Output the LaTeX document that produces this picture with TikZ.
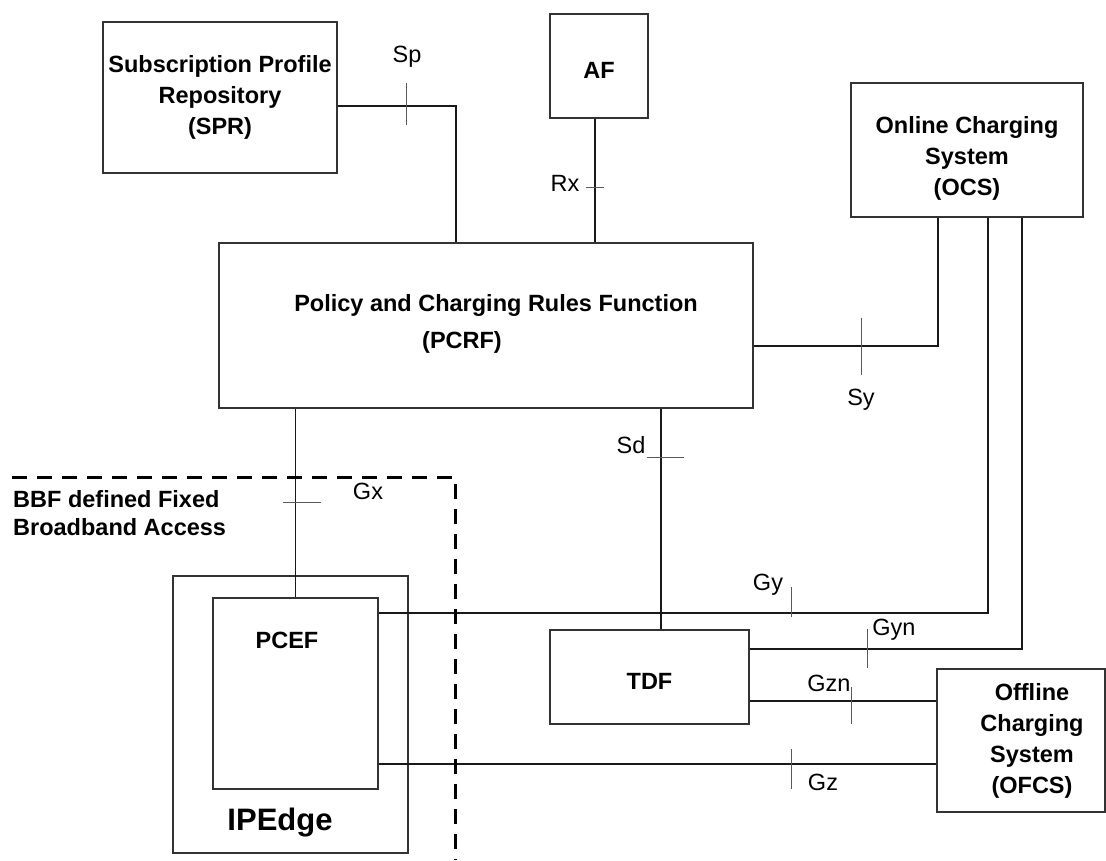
\documentclass[tikz,border=0pt]{standalone}
\usepackage{fontspec}
\setmainfont{Liberation Sans}
\usetikzlibrary{positioning}

\begin{document}
\begin{tikzpicture}[x=1pt, y=-1pt,
    netbox/.style={rectangle, draw=black!80, line width=1.5pt, inner sep=0pt, align=center,
      font=\fontsize{23.5}{31}\selectfont\bfseries},
    boxtext/.style={inner sep=0pt, align=center, font=\fontsize{23.5}{31}\selectfont\bfseries},
    ifline/.style={line width=1.5pt, black!90},
    ifmark/.style={line width=1pt, black!65},
    iflabel/.style={inner sep=0pt, font=\fontsize{23.5}{28}\selectfont}
  ]
    \useasboundingbox (0,0) rectangle (1106,860);
    \node[netbox, minimum width=234pt, minimum height=151pt] (spr)  at (220,97.5)   {Subscription Profile\\Repository\\(SPR)};
    \node[netbox, minimum width=98pt,  minimum height=104pt] (af)   at (599,66)     {};
    \node[boxtext] (afname) at (599,70) {AF};
    \node[netbox, minimum width=232pt, minimum height=134pt] (ocs)  at (967,150)    {};
    \node[boxtext] (ocsname) at (967,158) {Online Charging\\System\\(OCS)};
    \node[netbox, minimum width=534pt, minimum height=165pt] (pcrf) at (486,325.5)  {};
    \node[boxtext] (pcrfname) at (496,305) {Policy and Charging Rules Function};
    \node[boxtext] (pcrfabbr) at (462,342) {(PCRF)};
    \node[netbox, minimum width=235pt, minimum height=277pt] (ipedge) at (290.5,714.5) {};
    \node[netbox, minimum width=165pt, minimum height=191pt] (pcef)   at (295.5,693.5) {};
    \node[boxtext] (pcefname)   at (287,640) {PCEF};
    \node[boxtext, font=\fontsize{31}{36}\selectfont\bfseries] (ipedgename) at (280,823) {IPEdge};
    \node[netbox, minimum width=199pt, minimum height=94pt]  (tdf)  at (649.5,677)  {};
    \node[boxtext] (tdfname) at (649.5,681) {TDF};
    \node[netbox, minimum width=168pt, minimum height=143pt] (ofcs) at (1021,740.5) {};
    \node[boxtext] (ofcsname) at (1032,741) {Offline\\Charging\\System\\(OFCS)};
    \node[boxtext, align=left, anchor=west, font=\fontsize{23.5}{28}\selectfont\bfseries] (bbf) at (13,513)
      {BBF defined Fixed\\Broadband Access};

    \coordinate (rxtop) at ([xshift=-4pt]af.south);
    \coordinate (sdbot) at ([xshift=11.5pt]tdf.north);
    \coordinate (gznend) at ([yshift=-24pt]tdf.east);
    \coordinate (gzend) at ([yshift=-70.5pt]pcef.east);
    \draw[ifline] ([yshift=-8.5pt]spr.east) -| ([xshift=-30pt]pcrf.north);
    \draw[ifline] (rxtop) -- (rxtop |- pcrf.north);
    \draw[ifline] ([yshift=-20.5pt]pcrf.east) -| ([xshift=-29pt]ocs.south);
    \draw[ifline] (pcef.north) -- (pcef.north |- pcrf.south);
    \draw[ifline] (sdbot) -- (sdbot |- pcrf.south);
    \draw[ifline] ([yshift=80.5pt]pcef.east) -| ([xshift=21pt]ocs.south);
    \draw[ifline] ([yshift=28pt]tdf.east) -| ([xshift=55pt]ocs.south);
    \draw[ifline] (gznend) -- (gznend -| ofcs.west);
    \draw[ifline] (gzend) -- (gzend -| ofcs.west);

    \foreach \tx/\ta/\tb in {406/83/125, 861/318/375, 791/587/617, 867/629/668, 851/687/724, 791/749/789}
      \draw[ifmark] (\tx,\ta) -- (\tx,\tb);
    \foreach \ty/\ta/\tb in {187/586/604, 502/283/321, 457/647/684}
      \draw[ifmark] (\ta,\ty) -- (\tb,\ty);

    \node[iflabel] (splbl)  at (407,57)  {Sp};
    \node[iflabel] (rxlbl)  at (565,183) {Rx};
    \node[iflabel] (sylbl)  at (861,400) {Sy};
    \node[iflabel] (gxlbl)  at (368,491) {Gx};
    \node[iflabel] (sdlbl)  at (631,445) {Sd};
    \node[iflabel] (gylbl)  at (768,585) {Gy};
    \node[iflabel] (gynlbl) at (894,630) {Gyn};
    \node[iflabel] (gznlbl) at (829,683) {Gzn};
    \node[iflabel] (gzlbl)  at (823,782) {Gz};

    \draw[line width=3pt, dash pattern=on 15pt off 10pt] (12,477) -- (455,477) -- (455,860);
  \end{tikzpicture}
\end{document}
